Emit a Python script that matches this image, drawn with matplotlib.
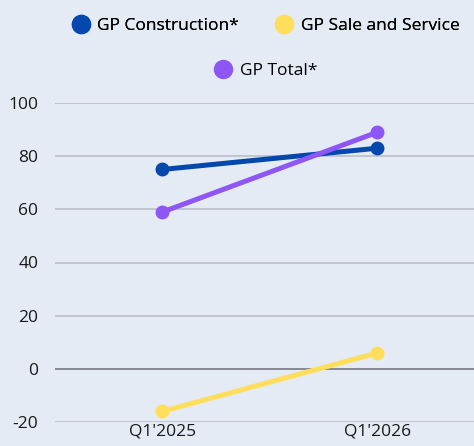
import matplotlib.pyplot as plt
from matplotlib.lines import Line2D

# data
periods = ["Q1'2025", "Q1'2026"]
gp_construction = [75, 83]
gp_sale_service = [-16, 6]
gp_total = [59, 89]
series_names = ['GP Construction*', 'GP Sale and Service', 'GP Total*']
yticks = [-20, 0, 20, 40, 60, 80, 100]

colors = ['#0447ad', '#ffde5c', '#8f56f6']
bg = '#e4ebf5'

plt.rcParams['font.family'] = ['Open Sans', 'DejaVu Sans']

fig = plt.figure(figsize=(4.74, 4.46), dpi=100)
fig.patch.set_facecolor(bg)
ax = fig.add_axes([55 / 474, 1 - 422 / 446, 419 / 474, (422 - 103) / 446])
ax.set_facecolor(bg)

x = list(range(len(periods)))
for vals, c in zip([gp_construction, gp_sale_service, gp_total], colors):
    ax.plot(x, vals, color=c, lw=3.6, marker='o', ms=9, solid_capstyle='round', zorder=3)

ax.set_xlim(-0.5, 1.45)
ax.set_ylim(-20, 100)
ax.set_yticks(yticks)
ax.set_yticklabels([str(v) for v in yticks])
ax.set_xticks(x)
ax.set_xticklabels(periods)
ax.tick_params(axis='both', length=0, labelsize=12.5, colors='#1a1a1a')
ax.tick_params(axis='y', pad=12)
ax.tick_params(axis='x', pad=1)
ax.grid(axis='y', color='#b9bec7', lw=1.2)
ax.axhline(0, color='#7d8088', lw=1.2, zorder=2)
for s in ax.spines.values():
    s.set_visible(False)

def handle(c):
    return Line2D([], [], ls='none', marker='o', ms=13, color=c)

leg1 = fig.legend([handle(colors[0]), handle(colors[1])], series_names[:2],
                  loc='center', bbox_to_anchor=(265 / 474, 1 - 26 / 446), ncol=2,
                  frameon=False, fontsize=12.5, handletextpad=0.35, columnspacing=2.0,
                  handlelength=1.2)
leg2 = fig.legend([handle(colors[2])], series_names[2:],
                  loc='center', bbox_to_anchor=(265 / 474, 1 - 71 / 446),
                  frameon=False, fontsize=12.5, handletextpad=0.35, handlelength=1.2)
fig.add_artist(leg1)

fig.savefig('out.png', dpi=100, facecolor=bg)
